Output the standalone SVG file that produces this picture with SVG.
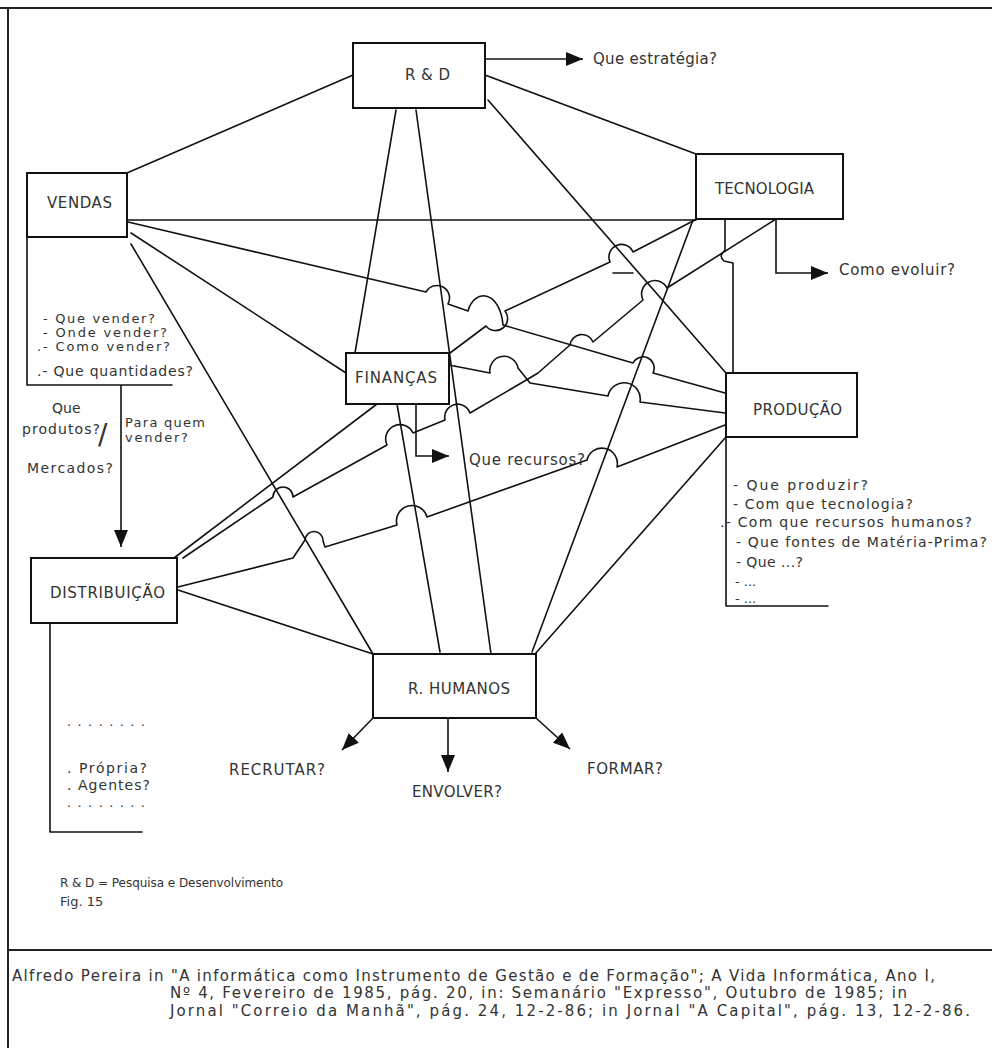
<svg xmlns="http://www.w3.org/2000/svg" width="992" height="1048" viewBox="0 0 992 1048">
<defs>
  <marker id="arrow" viewBox="0 0 10 10" refX="10" refY="5" markerUnits="userSpaceOnUse" markerWidth="17" markerHeight="14" orient="auto" preserveAspectRatio="none">
    <path d="M0,0 L10,5 L0,10 z" fill="#111"/>
  </marker>
</defs>
<style>
  .box{fill:#fff;stroke:#111;stroke-width:2}
  .ln{fill:none;stroke:#111;stroke-width:1.6;stroke-linejoin:round;stroke-linecap:round}
  .arr{fill:none;stroke:#111;stroke-width:1.6;marker-end:url(#arrow)}
  .t{font-family:"DejaVu Sans","Liberation Sans",sans-serif;font-size:15px;fill:#333}
  .s{font-size:13px}
  .m{font-size:14px}
  .frame{fill:none;stroke:#222;stroke-width:2}
</style>
<rect width="992" height="1048" fill="#fff"/>

<!-- page frame -->
<g id="frame">
  <path class="frame" d="M0,8 L992,8"/>
  <path class="frame" d="M8,8 L8,1048"/>
  <path class="frame" d="M8,950 L992,950"/>
</g>

<!-- connectors between the departments -->
<g id="connectors">
  <path class="ln" d="M353,75 L127,173"/>
  <path class="ln" d="M485,75 L696,154"/>
  <path class="ln" d="M396,110 L355,353"/>
  <path class="ln" d="M416,110 L491,654"/>
  <path class="ln" d="M488,100 L726,373"/>
  <path class="ln" d="M127,220 L696,220"/>
  <path class="ln" d="M128,222 L426,292 A11,11 0 0 1 448,304 L468,311 C474,288 500,290 503,325 L633,363 A10,10 0 0 1 653,373 L725,393"/>
  <path class="ln" d="M131,233 L346,373"/>
  <path class="ln" d="M131,244 L373,654"/>
  <path class="ln" d="M695,220 L633,252 A12,12 0 0 0 610,262 L505,311 A10,10 0 0 1 486,326 L450,353"/>
  <path class="ln" d="M776,219 L667,288 A12,12 0 0 0 643,300 L593,342 A12,12 0 0 0 570,345 L538,373 L523,382 L470,413 A13,13 0 0 0 445,420 L413,433 A13,13 0 0 0 387,445 L293,497 A10,10 0 0 0 273,497 L183,558"/>
  <path class="ln" d="M449,365 L490,373 A14,14 0 0 1 518,368 L530,383 L608,396 A16,16 0 0 1 640,402 L725,413"/>
  <path class="ln" d="M178,587 L293,558 L305,540 A9,9 0 0 1 323,541 L325,547 L397,525 A15,15 0 0 1 427,517 L587,460 A15,15 0 0 1 617,467 L725,425"/>
  <path class="ln" d="M174,558 L377,404"/>
  <path class="ln" d="M178,590 L373,654"/>
  <path class="ln" d="M397,404 L440,652"/>
  <path class="ln" d="M693,220 L532,652"/>
  <path class="ln" d="M726,437 L535,654"/>
  <path class="ln" d="M725,219 L725,250 Q718,256 724,261 L733,263 L733,373"/>
  <path class="ln" d="M613,273 L633,273"/>
  <!-- question arrows -->
  <path class="arr" d="M485,59 L583,59"/>
  <path class="arr" d="M776,219 L776,273 L828,273"/>
  <path class="arr" d="M416,404 L416,456 L449,456"/>
  <path class="arr" d="M121,385 L121,547"/>
  <path class="arr" d="M373,718 L342,750"/>
  <path class="arr" d="M448,718 L448,772"/>
  <path class="arr" d="M536,718 L570,749"/>
</g>

<g id="node-rd">
  <rect class="box" x="353" y="43" width="132" height="65"/>
  <text class="t" x="405" y="80" textLength="45" lengthAdjust="spacing">R &amp; D</text>
  <text class="t" x="593" y="64" textLength="124" lengthAdjust="spacing">Que estratégia?</text>
</g>

<g id="node-vendas">
  <rect class="box" x="27" y="173" width="100" height="64"/>
  <text class="t" x="47" y="208" textLength="65" lengthAdjust="spacing">VENDAS</text>
  <path class="ln" d="M27,237 L27,385 L172,385"/>
  <text class="t s" x="43" y="323" textLength="112" lengthAdjust="spacing">- Que vender?</text>
  <text class="t s" x="43" y="337" textLength="124" lengthAdjust="spacing">- Onde vender?</text>
  <text class="t s" x="37" y="351" textLength="133" lengthAdjust="spacing">.- Como vender?</text>
  <text class="t m" x="37" y="376" textLength="156" lengthAdjust="spacing">.- Que quantidades?</text>
  <text class="t m" x="52" y="413">Que</text>
  <text class="t m" x="22" y="434" textLength="78" lengthAdjust="spacing">produtos?</text>
  <text class="t" x="98" y="444" style="font-size:28px">/</text>
  <text class="t s" x="125" y="427" textLength="80" lengthAdjust="spacing">Para quem</text>
  <text class="t s" x="125" y="442" textLength="63" lengthAdjust="spacing">vender?</text>
  <text class="t m" x="27" y="473" textLength="86" lengthAdjust="spacing">Mercados?</text>
</g>

<g id="node-tecnologia">
  <rect class="box" x="696" y="154" width="147" height="65"/>
  <text class="t" x="715" y="194" textLength="99" lengthAdjust="spacing">TECNOLOGIA</text>
  <text class="t" x="839" y="275" textLength="116" lengthAdjust="spacing">Como evoluir?</text>
</g>

<g id="node-financas">
  <rect class="box" x="346" y="353" width="103" height="51"/>
  <text class="t" x="355" y="383" textLength="82" lengthAdjust="spacing">FINANÇAS</text>
  <text class="t" x="469" y="465" textLength="116" lengthAdjust="spacing">Que recursos?</text>
</g>

<g id="node-producao">
  <rect class="box" x="726" y="373" width="131" height="64"/>
  <text class="t" x="753" y="415" textLength="89" lengthAdjust="spacing">PRODUÇÃO</text>
  <path class="ln" d="M726,437 L726,606 L828,606"/>
  <text class="t m" x="733" y="490" textLength="135" lengthAdjust="spacing">- Que produzir?</text>
  <text class="t m" x="733" y="509" textLength="180" lengthAdjust="spacing">- Com que tecnologia?</text>
  <text class="t m" x="720" y="527" textLength="252" lengthAdjust="spacing">.- Com que recursos humanos?</text>
  <text class="t m" x="736" y="547" textLength="251" lengthAdjust="spacing">- Que fontes de Matéria-Prima?</text>
  <text class="t m" x="736" y="567" textLength="67" lengthAdjust="spacing">- Que ...?</text>
  <text class="t s" x="735" y="586">- ...</text>
  <text class="t s" x="735" y="603">- ...</text>
</g>

<g id="node-distribuicao">
  <rect class="box" x="31" y="558" width="146" height="65"/>
  <text class="t" x="50" y="598" textLength="115" lengthAdjust="spacing">DISTRIBUIÇÃO</text>
  <path class="ln" d="M50,623 L50,832 L142,832"/>
  <text class="t s" x="67" y="726" textLength="78" lengthAdjust="spacing">........</text>
  <text class="t m" x="67" y="773" textLength="80" lengthAdjust="spacing">. Própria?</text>
  <text class="t m" x="67" y="790" textLength="83" lengthAdjust="spacing">. Agentes?</text>
  <text class="t s" x="67" y="807" textLength="78" lengthAdjust="spacing">........</text>
</g>

<g id="node-rhumanos">
  <rect class="box" x="373" y="654" width="163" height="64"/>
  <text class="t" x="408" y="694" textLength="102" lengthAdjust="spacing">R. HUMANOS</text>
  <text class="t" x="229" y="775" textLength="96" lengthAdjust="spacing">RECRUTAR?</text>
  <text class="t" x="412" y="797" textLength="90" lengthAdjust="spacing">ENVOLVER?</text>
  <text class="t" x="587" y="774" textLength="76" lengthAdjust="spacing">FORMAR?</text>
</g>

<g id="legend">
  <text class="t" x="60" y="887" style="font-size:12px" textLength="223" lengthAdjust="spacing">R &amp; D = Pesquisa e Desenvolvimento</text>
  <text class="t" x="60" y="906" style="font-size:13px">Fig. 15</text>
</g>

<g id="source">
  <text class="t" x="12" y="981" textLength="923" lengthAdjust="spacing">Alfredo Pereira in "A informática como  Instrumento de Gestão e de Formação"; A Vida Informática, Ano I,</text>
  <text class="t" x="170" y="998" textLength="737" lengthAdjust="spacing">Nº 4, Fevereiro de 1985, pág. 20, in: Semanário "Expresso", Outubro de 1985; in</text>
  <text class="t" x="170" y="1016" textLength="800" lengthAdjust="spacing">Jornal "Correio da Manhã", pág. 24, 12-2-86; in Jornal "A Capital", pág. 13, 12-2-86.</text>
</g>
</svg>
